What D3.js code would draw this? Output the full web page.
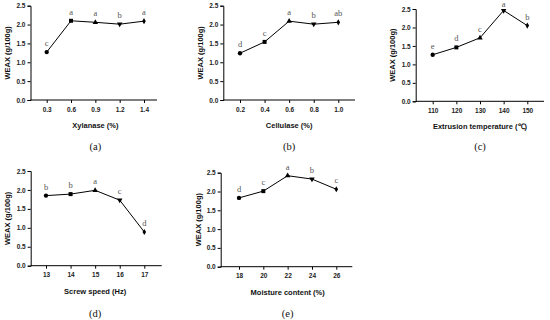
<!DOCTYPE html>
<html><head><meta charset="utf-8">
<script src="https://cdn.jsdelivr.net/npm/d3@7"></script>
<style>body{margin:0;background:#fff}svg{display:block}</style>
</head><body><svg id="c" width="550" height="320"></svg>
<script>
const yTicks = [0, 0.5, 1.0, 1.5, 2.0, 2.5];
const yLabel = "WEAX (g/100g)";

const xylanaseCats = ["0.3", "0.6", "0.9", "1.2", "1.4"];
const xylanaseVals = [1.27, 2.10, 2.06, 2.01, 2.09];
const xylanaseSig = ["c", "a", "a", "b", "a"];

const cellulaseCats = ["0.2", "0.4", "0.6", "0.8", "1.0"];
const cellulaseVals = [1.24, 1.54, 2.09, 2.01, 2.06];
const cellulaseSig = ["d", "c", "a", "b", "ab"];

const tempCats = ["110", "120", "130", "140", "150"];
const tempVals = [1.26, 1.46, 1.72, 2.46, 2.05];
const tempSig = ["e", "d", "c", "a", "b"];

const screwCats = ["13", "14", "15", "16", "17"];
const screwVals = [1.85, 1.89, 1.99, 1.73, 0.89];
const screwSig = ["b", "b", "a", "c", "d"];

const moistCats = ["18", "20", "22", "24", "26"];
const moistVals = [1.83, 2.01, 2.42, 2.33, 2.06];
const moistSig = ["d", "c", "a", "b", "c"];

const panels = [
  {cats: xylanaseCats, vals: xylanaseVals, sig: xylanaseSig, xlab: "Xylanase (%)", cap: "(a)",
   L: 30.5, T: 5.7, B: 100, x0: 46.7, x1: 144, E: 157, yl: 8, capY: 150},
  {cats: cellulaseCats, vals: cellulaseVals, sig: cellulaseSig, xlab: "Cellulase (%)", cap: "(b)",
   L: 223.3, T: 5.7, B: 100, x0: 240, x1: 338.3, E: 355, yl: 201.5, capY: 150},
  {cats: tempCats, vals: tempVals, sig: tempSig, xlab: "Extrusion temperature (\u2103)", cap: "(c)",
   L: 415.7, T: 9, B: 101.3, x0: 432.7, x1: 527.3, E: 544, yl: 393.5, capY: 150},
  {cats: screwCats, vals: screwVals, sig: screwSig, xlab: "Screw speed (Hz)", cap: "(d)",
   L: 30.7, T: 171, B: 265.7, x0: 46, x1: 144.3, E: 161.7, yl: 8, capY: 316.5},
  {cats: moistCats, vals: moistVals, sig: moistSig, xlab: "Moisture content (%)", cap: "(e)",
   L: 220.7, T: 172.7, B: 266.7, x0: 239, x1: 336.3, E: 352.3, yl: 199, capY: 316.5}
];

const symbols = [d3.symbolCircle, d3.symbolSquare, d3.symbolTriangle, d3.symbolTriangle, d3.symbolDiamond];
const symSize = [15, 16, 13, 13, 11];
const svg = d3.select("#c");
const sans = "Arial, 'Liberation Sans', sans-serif";
const serif = "'Times New Roman', 'Liberation Serif', serif";

panels.forEach(p => {
  const g = svg.append("g");
  const x = d3.scalePoint().domain(p.cats).range([p.x0, p.x1]);
  const y = d3.scaleLinear().domain([0, 2.5]).range([p.B, p.T]);

  const ya = g.append("g").attr("transform", `translate(${p.L},0)`)
    .call(d3.axisLeft(y).tickValues(yTicks).tickFormat(d3.format(".1f")).tickSize(3).tickPadding(2));
  const xa = g.append("g").attr("transform", `translate(0,${p.B})`)
    .call(d3.axisBottom(x).tickSize(3).tickPadding(4));
  xa.select(".domain").attr("d", `M${p.L},0H${p.E}`);
  [ya, xa].forEach(a => {
    a.selectAll("path,line").attr("stroke", "#000").attr("stroke-width", 1);
    a.selectAll("text").attr("font-family", sans).attr("font-weight", "bold")
      .attr("font-size", 6.5).attr("fill", "#222");
  });

  const pts = p.cats.map((c, i) => [x(c), y(p.vals[i])]);
  g.append("path").attr("d", d3.line()(pts)).attr("fill", "none")
    .attr("stroke", "#000").attr("stroke-width", 1);

  pts.forEach((pt, i) => {
    g.append("path").attr("d", d3.symbol(symbols[i], symSize[i])())
      .attr("transform", `translate(${pt[0]},${pt[1]})` + (i === 3 ? " rotate(180)" : ""))
      .attr("fill", "#000");
    g.append("text").attr("x", pt[0]).attr("y", Math.max(6.5, pt[1] - 6))
      .attr("text-anchor", "middle").attr("font-family", serif)
      .attr("font-size", 8.5).attr("fill", "#555").text(p.sig[i]);
  });

  g.append("text").attr("transform", `translate(${p.yl},${(p.T + p.B) / 2}) rotate(-90)`)
    .attr("text-anchor", "middle").attr("dominant-baseline", "middle")
    .attr("font-family", sans).attr("font-weight", "bold").attr("font-size", 7.5)
    .attr("fill", "#111").text(yLabel);

  const cx = (p.x0 + p.x1) / 2;
  g.append("text").attr("x", cx).attr("y", p.B + 28)
    .attr("text-anchor", "middle").attr("font-family", sans).attr("font-weight", "bold")
    .attr("font-size", 7.5).attr("fill", "#111").text(p.xlab);
  g.append("text").attr("x", cx).attr("y", p.capY)
    .attr("text-anchor", "middle").attr("font-family", serif)
    .attr("font-size", 10.5).attr("fill", "#111").text(p.cap);
});
</script></body></html>
